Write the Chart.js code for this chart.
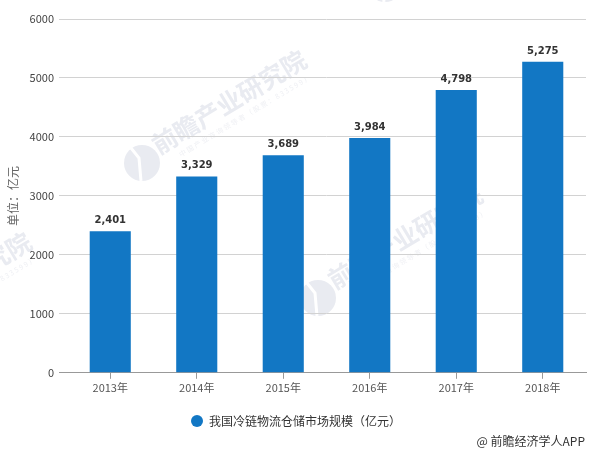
<!DOCTYPE html>
<html>
<head>
<meta charset="UTF-8">
<title>我国冷链物流仓储市场规模</title>
<script src="https://cdn.jsdelivr.net/npm/chart.js"></script>
<style>
  *{padding: 0; margin: 0;}
  body{background: #fff; width: 590px; height: 453px; overflow: hidden;}
  canvas{display: block;}
</style>
</head>
<body>
<canvas id="myChart" width="590" height="453"></canvas>
<script>
const years = ['2013年', '2014年', '2015年', '2016年', '2017年', '2018年'];
const marketSize = [2401, 3329, 3689, 3984, 4798, 5275];
const seriesName = '我国冷链物流仓储市场规模（亿元）';
const unitLabel = '单位：亿元';
const creditText = '@ 前瞻经济学人APP';
const watermarkText = '前瞻产业研究院';
const watermarkSub = '中国产业咨询领导者（股票：833599）';

const cjk = '"Noto Sans CJK SC", "Noto Sans", sans-serif';

// faint watermark behind grid and bars
const watermark = {
  id: 'watermark',
  beforeDraw(chart) {
    const c = chart.ctx;
    const spots = [[154, 147], [330, 282], [-121, 329], [397, -32]];
    const angle = -31 * Math.PI / 180;
    c.save();
    spots.forEach(function (s) {
      c.save();
      c.translate(s[0], s[1]);
      c.rotate(angle);
      c.textBaseline = 'middle';
      c.fillStyle = '#e9ebf1';
      c.font = 'bold 25px ' + cjk;
      c.fillText(watermarkText, 0, 0);
      c.fillStyle = '#eff0f4';
      c.font = '7px ' + cjk;
      c.letterSpacing = '1.6px';
      c.fillText(watermarkSub, 18, 20);
      c.restore();

      // round logo with a slanted cut
      const lx = s[0] - 12, ly = s[1] + 16;
      c.fillStyle = '#e9ebf1';
      c.beginPath();
      c.arc(lx, ly, 18, 0, Math.PI * 2);
      c.fill();
      c.strokeStyle = '#fff';
      c.lineWidth = 3;
      c.beginPath();
      c.moveTo(lx - 11, ly - 15);
      c.lineTo(lx - 3, ly - 5);
      c.lineTo(lx - 1, ly + 18);
      c.stroke();
    });
    c.restore();
  }
};

// numbers over the bars and the credit in the corner
const barLabels = {
  id: 'barLabels',
  afterDatasetsDraw(chart) {
    const c = chart.ctx;
    c.save();
    c.fillStyle = '#333';
    c.font = 'bold 10px "DejaVu Sans", sans-serif';
    c.textAlign = 'center';
    c.textBaseline = 'alphabetic';
    chart.getDatasetMeta(0).data.forEach(function (bar, i) {
      c.fillText(marketSize[i].toLocaleString('en-US'), bar.x, bar.y - 8);
    });
    c.font = '12px ' + cjk;
    c.textAlign = 'right';
    c.textBaseline = 'middle';
    c.fillText(creditText, 585, 441);
    c.restore();
  }
};

new Chart(document.getElementById('myChart'), {
  type: 'bar',
  data: {
    labels: years,
    datasets: [{
      label: seriesName,
      data: marketSize,
      backgroundColor: '#1277c4',
      barPercentage: 0.475,
      categoryPercentage: 1
    }]
  },
  options: {
    responsive: false,
    animation: false,
    layout: {padding: {left: 6, right: 4, top: 19, bottom: 16}},
    plugins: {
      tooltip: {enabled: false},
      legend: {
        position: 'bottom',
        labels: {
          usePointStyle: true,
          pointStyle: 'circle',
          boxHeight: 8.5,
          padding: 19,
          color: '#333',
          font: {size: 12, family: cjk}
        }
      }
    },
    scales: {
      x: {
        grid: {drawOnChartArea: false, offset: false, color: '#999', tickLength: 6},
        border: {color: '#999'},
        ticks: {color: '#555', font: {size: 11, family: cjk}, padding: 2, maxRotation: 0}
      },
      y: {
        min: 0,
        max: 6000,
        afterFit: function (scale) { scale.width = 61; },
        grid: {
          color: function (ctx) { return ctx.tick.value === 0 ? '#999' : '#d2d2d2'; },
          tickColor: function (ctx) { return ctx.tick.value === 0 ? '#999' : '#d2d2d2'; },
          tickLength: 8
        },
        border: {display: false},
        ticks: {
          stepSize: 1000,
          color: '#444',
          font: {size: 11, family: cjk},
          padding: 5,
          callback: function (v) { return String(v); }
        },
        title: {
          display: true,
          text: unitLabel,
          color: '#666',
          font: {size: 12, family: cjk},
          padding: {top: 0, bottom: 6}
        }
      }
    }
  },
  plugins: [watermark, barLabels]
});
</script>
</body>
</html>
